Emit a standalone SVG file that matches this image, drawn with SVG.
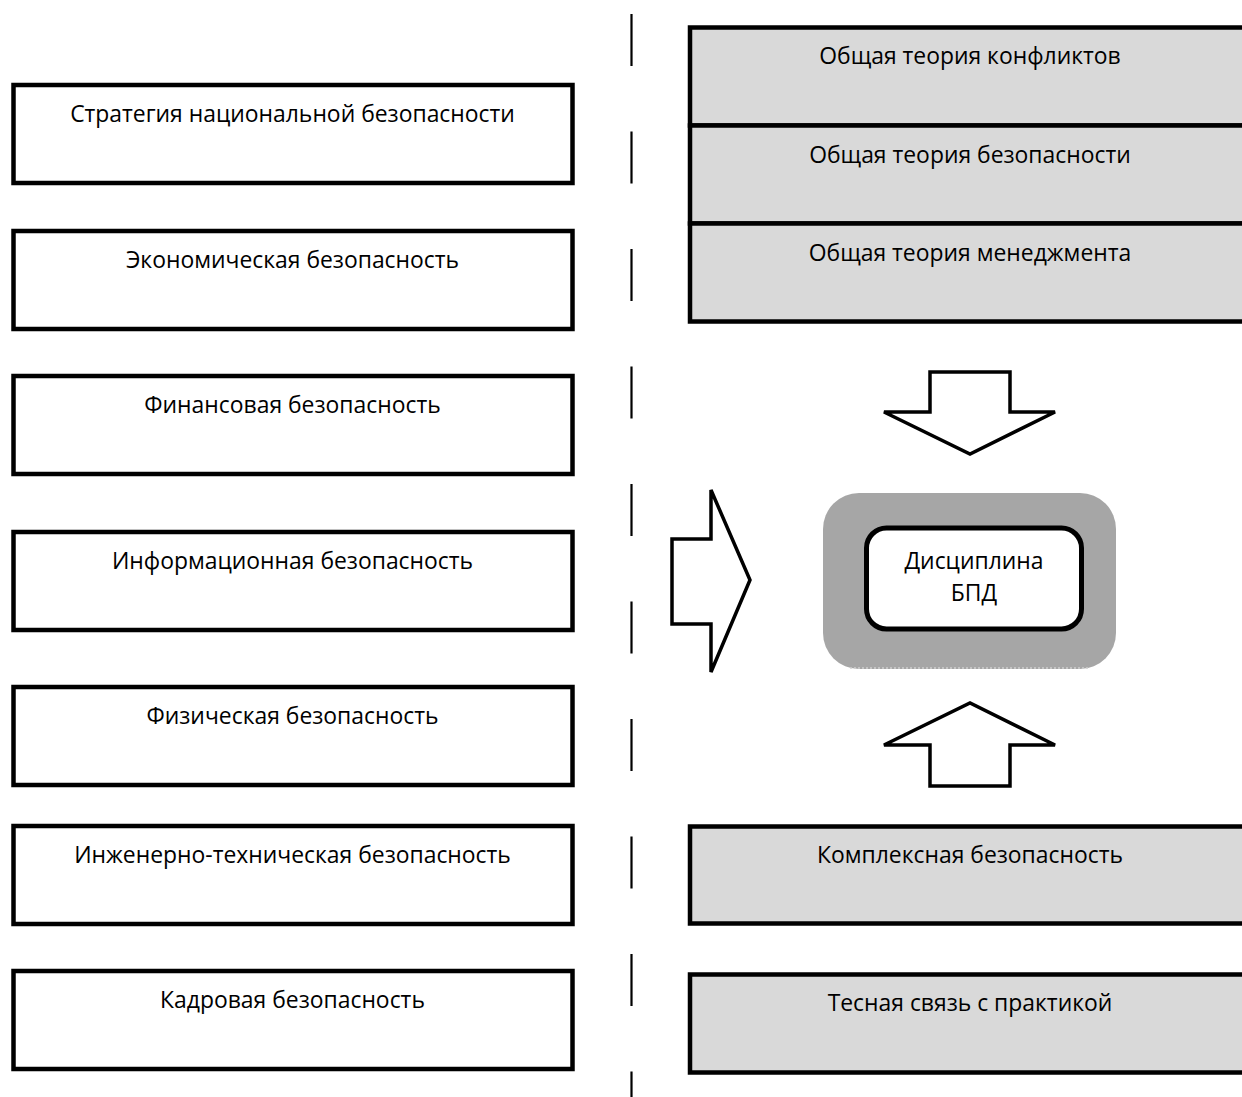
<svg xmlns="http://www.w3.org/2000/svg" width="1242" height="1097" viewBox="0 0 1242 1097">
<style>
.box{fill:#fff;stroke:#000;stroke-width:4.5}
.gbox{fill:#d9d9d9;stroke:#000;stroke-width:4.5}
.t{font-family:"Open Sans","Liberation Sans",sans-serif;font-size:22.9px;fill:#000;text-anchor:middle}
.arrow{fill:#fff;stroke:#000;stroke-width:3.5;stroke-linejoin:miter}
.dash{stroke:#000;stroke-width:2.2;stroke-dasharray:52 65.5}
</style>
<rect width="1242" height="1097" fill="#fff"/>
<g id="connectors">
<line class="dash" x1="631.5" y1="14" x2="631.5" y2="1097"/>
<polygon class="arrow" points="672,539 711,539 711,490 750,580 711,672 711,624 672,624"/>
<polygon class="arrow" points="930,372 1010,372 1010,412 1055,412 970,454 884,412 930,412"/>
<polygon class="arrow" points="930,786 1010,786 1010,745 1055,745 970,703 884,745 930,745"/>
</g>
<g id="n1"><rect class="box" x="13.5" y="85" width="559" height="98"/><text class="t" x="292.5" y="122">Стратегия национальной безопасности</text></g>
<g id="n2"><rect class="box" x="13.5" y="231" width="559" height="98"/><text class="t" x="292.5" y="268">Экономическая безопасность</text></g>
<g id="n3"><rect class="box" x="13.5" y="376" width="559" height="98"/><text class="t" x="292.5" y="413">Финансовая безопасность</text></g>
<g id="n4"><rect class="box" x="13.5" y="532" width="559" height="98"/><text class="t" x="292.5" y="569">Информационная безопасность</text></g>
<g id="n5"><rect class="box" x="13.5" y="687" width="559" height="98"/><text class="t" x="292.5" y="724">Физическая безопасность</text></g>
<g id="n6"><rect class="box" x="13.5" y="826" width="559" height="98"/><text class="t" x="292.5" y="863">Инженерно-техническая безопасность</text></g>
<g id="n7"><rect class="box" x="13.5" y="971" width="559" height="98"/><text class="t" x="292.5" y="1008">Кадровая безопасность</text></g>
<g id="r1"><rect class="gbox" x="690" y="27.5" width="570" height="98"/><text class="t" x="970" y="64">Общая теория конфликтов</text></g>
<g id="r2"><rect class="gbox" x="690" y="125.5" width="570" height="98"/><text class="t" x="970" y="163">Общая теория безопасности</text></g>
<g id="r3"><rect class="gbox" x="690" y="223.5" width="570" height="98"/><text class="t" x="970" y="261">Общая теория менеджмента</text></g>
<g id="r4"><rect class="gbox" x="690" y="826.5" width="570" height="97"/><text class="t" x="970" y="863">Комплексная безопасность</text></g>
<g id="r5"><rect class="gbox" x="690" y="974.5" width="570" height="98"/><text class="t" x="970" y="1011">Тесная связь с практикой</text></g>
<g id="center">
<rect x="823" y="493" width="293" height="176" rx="36" fill="#a6a6a6"/>
<path d="M 850 668 L 1089 668" stroke="#d0d0d0" stroke-width="1.5" stroke-dasharray="2 2"/>
<rect x="866.5" y="528" width="215" height="101" rx="20" fill="#fff" stroke="#000" stroke-width="5"/>
<text class="t" x="974" y="569">Дисциплина</text>
<text class="t" x="974" y="601">БПД</text>
</g>
</svg>
